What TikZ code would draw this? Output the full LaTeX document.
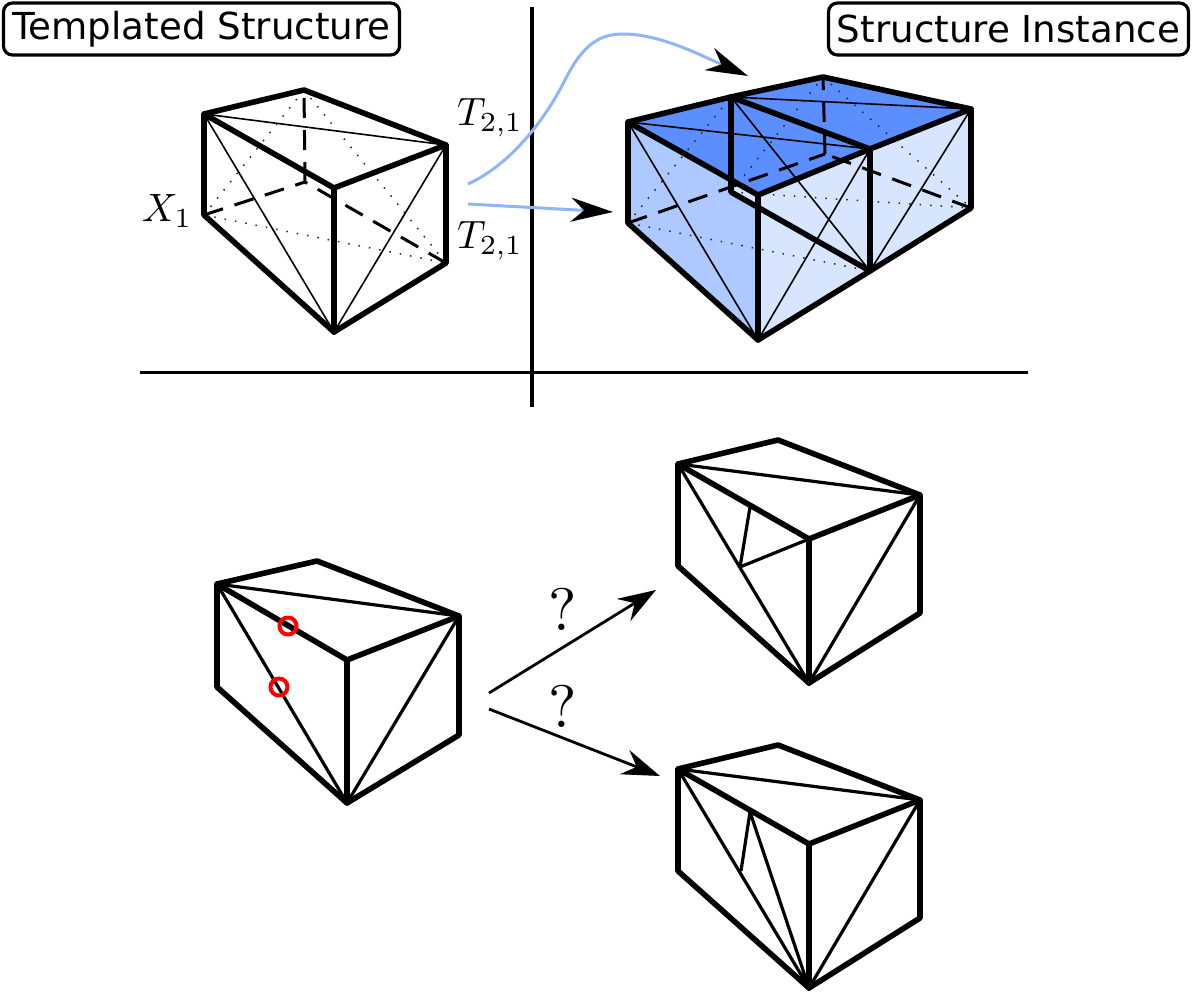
\documentclass[tikz,border=0pt]{standalone}
\usepackage{fontspec}
\newfontfamily\labelfont{DejaVu Sans}
\usetikzlibrary{arrows.meta}
\definecolor{topblue}{HTML}{5B8FFF}
\definecolor{leftblue}{HTML}{AEC9FF}
\definecolor{rightblue}{HTML}{D7E5FF}
\definecolor{curveblue}{HTML}{8FB4F7}
\tikzset{
  heavyedge/.style={line width=5.6pt,line join=round,line cap=round,black},
  fineedge/.style={line width=1.6pt,black},
  wireedge/.style={line width=3.2pt,black},
  dotedge/.style={line width=1.5pt,black!85,dash pattern=on 1.5pt off 9pt},
  dashedge/.style={line width=3pt,black,dash pattern=on 20pt off 12pt},
  axisline/.style={line width=3.4pt,black},
  titlebox/.style={draw=black,line width=3.2pt,rounded corners=9pt,fill=white,minimum height=52pt,inner sep=0pt,font=\labelfont\fontsize{37.2}{40}\selectfont},
  mathlabel/.style={inner sep=0pt,scale=3.95,black},
  asklabel/.style={inner sep=0pt,scale=6,black},
  bluearrow/.style={line width=3pt,curveblue},
  bigtip/.style={-{Stealth[black,length=42pt,width=24pt,inset=13pt]}},
  blacktip/.style={line width=2.8pt,black,-{Stealth[length=38pt,width=26pt,inset=13pt]}},
  redring/.style={circle,draw=red,line width=4pt,minimum size=17pt,inner sep=0pt},
}
\begin{document}
\begin{tikzpicture}[x=1pt,y=-1pt]
\useasboundingbox (0,0) rectangle (1192,992);
% axes
\coordinate (vt) at (532,7);\coordinate (vb) at (532,407);
\coordinate (hl) at (140,372.5);\coordinate (hr) at (1028,372.5);
\draw[axisline] (vt) -- (vb);
\draw[axisline] (hl) -- (hr);
% titles
\node[titlebox,minimum width=396pt] (t1) at (201.5,29) {Templated Structure};
\node[titlebox,minimum width=360pt] (t2) at (1008.5,29) {Structure Instance};
% Box 1 template
\coordinate (aL) at (204,114);\coordinate (aB) at (304,90);\coordinate (aR) at (446,145);
\coordinate (aF) at (334,188);\coordinate (aFb) at (334,332);\coordinate (aLb) at (204,215);
\coordinate (aRb) at (446,263);\coordinate (aBb) at (305,182);
\draw[dotedge] (aLb)--(aB) (aB)--(aRb) (aLb)--(aRb);
\draw[dashedge] (aLb)--(aBb);
\draw[dashedge] (aRb)--(aBb);
\draw[dashedge] (aBb)--(aB);
\draw[fineedge] (aL)--(aR) (aL)--(aFb) (aFb)--(aR);
\draw[heavyedge] (aL)--(aB)--(aR)--(aF)--cycle;
\draw[heavyedge] (aL)--(aLb)--(aFb)--(aRb)--(aR);
\draw[heavyedge] (aF)--(aFb);
\node[mathlabel] (x1) at (167,211) {$X_1$};
\node[mathlabel] (t21a) at (490,118) {$T_{2,1}$};
\node[mathlabel] (t21b) at (490,241) {$T_{2,1}$};
% Box 2 instance
\coordinate (bL) at (628,122);\coordinate (bM) at (731,97);\coordinate (bR) at (870,149);
\coordinate (bF) at (758,195);\coordinate (bFb) at (758,340);\coordinate (bLb) at (628,223);
\coordinate (bRb) at (870,271);\coordinate (bMb) at (731,192);\coordinate (bN) at (731,180);
\coordinate (bS) at (758,207);
\coordinate (cB) at (823,77);\coordinate (cR) at (971,109);\coordinate (cRb) at (971,208);
\coordinate (cBb) at (825,154);
\fill[leftblue] (bL)--(bF)--(bFb)--(bLb)--cycle;
\fill[rightblue] (bF)--(bR)--(bRb)--(bFb)--cycle;
\fill[rightblue] (bR)--(cR)--(cRb)--(bRb)--cycle;
\fill[rightblue] (bN)--(bF)--(bS)--(bMb)--cycle;
\fill[topblue] (bL)--(bM)--(bR)--(bF)--cycle;
\fill[topblue] (bM)--(cB)--(cR)--(bR)--cycle;
\draw[dotedge] (bLb)--(bM) (bLb)--(bRb) (bMb)--(cB) (cB)--(cRb) (bMb)--(cRb);
\draw[dashedge] (bLb)--(cBb);
\draw[dashedge] (cRb)--(cBb);
\draw[dashedge] (cBb)--(cB);
\draw[fineedge] (bL)--(bR) (bL)--(bFb) (bFb)--(bR) (bM)--(cR) (bM)--(bRb) (bRb)--(cR);
\draw[heavyedge] (bL)--(bM)--(cB)--(cR)--(cRb)--(bRb)--(bFb)--(bF)--(bL)--cycle;
\draw[heavyedge] (bL)--(bLb)--(bFb);
\draw[heavyedge] (bM)--(bR)--(bF);
\draw[heavyedge] (bR)--(cR);
\draw[heavyedge] (bR)--(bRb);
\draw[heavyedge] (bM)--(bMb)--(bRb);
% curves
\coordinate (c1s) at (468,184);\coordinate (c1e) at (748,76);
\coordinate (c2s) at (468,204);\coordinate (c2e) at (613,212);
\draw[bluearrow,bigtip] (c1s) .. controls (510,165) and (545,120) .. (565,80)
   .. controls (583,44) and (600,34) .. (623,34)
   .. controls (660,34) and (700,55) .. (c1e);
\draw[bluearrow,bigtip] (c2s) -- (c2e);
% Box 3 query
\coordinate (dL) at (217,584);\coordinate (dB) at (317,561);\coordinate (dR) at (459,616);
\coordinate (dF) at (347,660);\coordinate (dFb) at (347,803);\coordinate (dLb) at (217,687);
\coordinate (dRb) at (459,735);
\draw[wireedge] (dL)--(dR) (dL)--(dFb) (dFb)--(dR);
\draw[heavyedge] (dL)--(dB)--(dR)--(dF)--cycle;
\draw[heavyedge] (dL)--(dLb)--(dFb)--(dRb)--(dR);
\draw[heavyedge] (dF)--(dFb);
\node[redring] (r1) at (288,626) {};
\node[redring] (r2) at (279,687) {};
% Box 4
\coordinate (eL) at (678,464);\coordinate (eB) at (778,440);\coordinate (eR) at (920,495);
\coordinate (eF) at (809,539);\coordinate (eFb) at (809,683);\coordinate (eLb) at (678,566);
\coordinate (eRb) at (920,613);\coordinate (eP) at (750,507);\coordinate (eQ) at (740,567);
\draw[wireedge] (eL)--(eR) (eL)--(eFb) (eFb)--(eR) (eP)--(eQ) (eQ)--(eF);
\draw[heavyedge] (eL)--(eB)--(eR)--(eF)--cycle;
\draw[heavyedge] (eL)--(eLb)--(eFb)--(eRb)--(eR);
\draw[heavyedge] (eF)--(eFb);
% Box 5
\coordinate (fL) at (678,769);\coordinate (fB) at (778,745);\coordinate (fR) at (920,800);
\coordinate (fF) at (809,844);\coordinate (fFb) at (809,988);\coordinate (fLb) at (678,871);
\coordinate (fRb) at (920,918);\coordinate (fP) at (750,812);\coordinate (fQ) at (741,871);
\draw[wireedge] (fL)--(fR) (fL)--(fFb) (fFb)--(fR) (fP)--(fQ) (fP)--(fFb);
\draw[heavyedge] (fL)--(fB)--(fR)--(fF)--cycle;
\draw[heavyedge] (fL)--(fLb)--(fFb)--(fRb)--(fR);
\draw[heavyedge] (fF)--(fFb);
% query arrows
\coordinate (q1s) at (489,693);\coordinate (q1e) at (656,590);
\coordinate (q2s) at (489,709);\coordinate (q2e) at (660,776);
\draw[blacktip] (q1s) -- (q1e);
\draw[blacktip] (q2s) -- (q2e);
\node[asklabel] (qa) at (563,609) {?};
\node[asklabel] (qb) at (563,706) {?};
\end{tikzpicture}
\end{document}
